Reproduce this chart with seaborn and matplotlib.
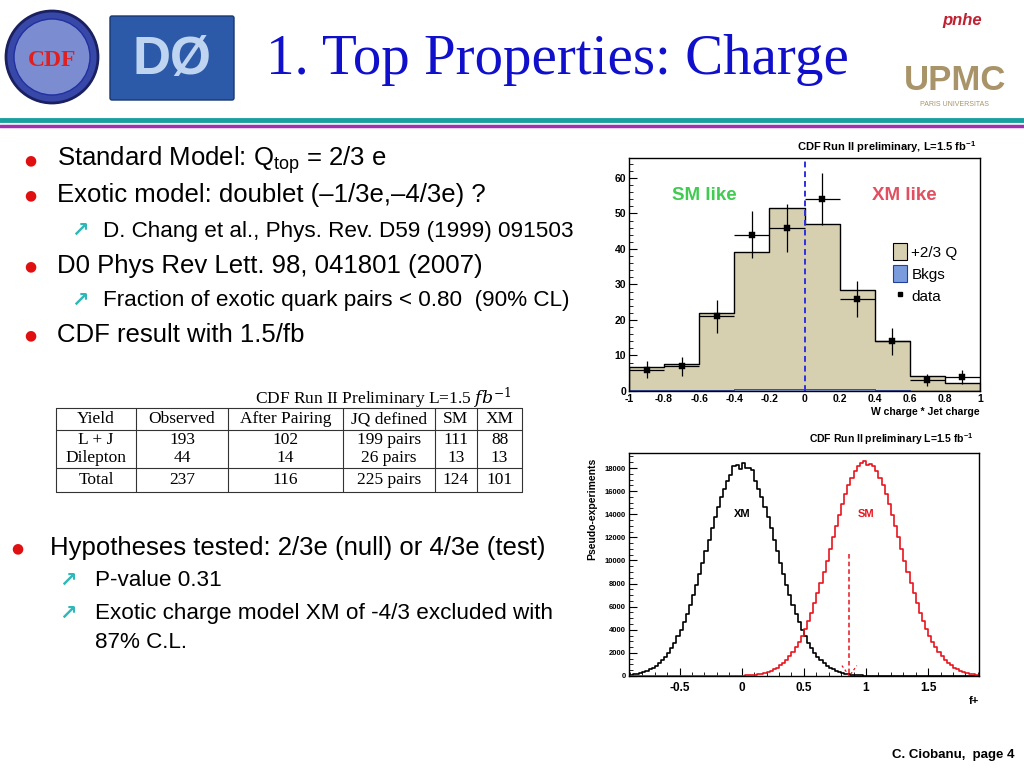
import numpy as np
import pandas as pd
import matplotlib
matplotlib.use("Agg")
import matplotlib.pyplot as plt
import seaborn as sns
from matplotlib.patches import Patch, Circle, FancyBboxPatch
from matplotlib.lines import Line2D
from matplotlib.ticker import MultipleLocator

# ---------------- data ----------------
# top histogram: W charge * Jet charge
charge_edges = [-1.0, -0.8, -0.6, -0.4, -0.2, 0.0, 0.2, 0.4, 0.6, 0.8, 1.0]
sm_total = [6.8, 7.5, 22.0, 39.0, 51.5, 47.0, 28.5, 14.0, 4.3, 2.3]
bkgs = [0.2, 0.2, 0.3, 0.6, 0.6, 0.6, 0.6, 0.3, 0.1, 0.1]
data_x = [-0.9, -0.7, -0.5, -0.3, -0.1, 0.1, 0.3, 0.5, 0.7, 0.9]
data_y = [6, 7, 21, 44, 46, 54, 26, 14, 3, 4]

# bottom histogram: f+ pseudo-experiments (bins of 0.025 from -0.9 to 1.9)
fplus_lo, fplus_hi, fplus_n = -0.9, 1.9, 112
xm_counts = [
    120, 159, 209, 272, 351, 449, 571, 719, 898, 1114, 1371, 1673, 2025, 2432, 2899, 3428,
    4020, 4677, 5399, 6181, 7024, 7915, 8850, 9818, 10802, 11793, 12772, 13721, 14624, 15464,
    16221, 16882, 17427, 18200, 18250, 17950,
    18450, 18000, 18000, 17800, 16882, 16221, 15464, 14624, 13721, 12772, 11793, 10802, 9818,
    8850, 7915, 7024, 6181, 5399, 4677, 4020, 3428, 2899, 2432, 2025, 1673, 1371, 1114, 898,
    719, 571, 449, 351, 272, 209, 159, 120,
    90, 67, 50, 36, 26, 19, 14, 10, 7, 5, 4, 3, 2, 2, 1, 1, 1, 0, 0, 0,
    0, 0, 0, 0, 0, 0, 0, 0, 0, 0, 0, 0, 0, 0, 0, 0, 0, 0, 0, 0,
]
sm_counts = [
    0, 0, 0, 0, 0, 0, 0, 0, 0, 0, 0, 0, 0, 0, 0, 0, 0, 0, 0, 0,
    0, 0, 0, 1, 1, 1, 2, 2, 3, 4, 5, 7, 10, 14, 19, 26, 36, 50, 68, 91,
    122, 162, 213, 277, 357, 457, 581, 731, 913, 1133, 1394, 1701, 2059, 2473, 2948, 3486,
    4088, 4756, 5491, 6286, 7143, 8049, 9000, 9985, 10986, 11993, 12989, 13954, 14873, 15727,
    16497, 17169, 17723, 18154, 18445, 18650,
    18300, 18380, 18154, 17723, 17169, 16497, 15727, 14873, 13954, 12989, 11993, 10986, 9985,
    9000, 8049, 7143, 6286, 5491, 4756, 4088, 3486, 2948, 2473, 2059, 1701, 1394, 1133, 913,
    731, 581, 457, 357, 277, 213, 162, 122,
]
observed_fplus = 0.866
arrow_top = 10600

# table
table_header = ["Yield", "Observed", "After Pairing", "JQ defined", "SM", "XM"]
table_rows = [
    ["L + J", "193", "102", "199 pairs", "111", "88"],
    ["Dilepton", "44", "14", "26 pairs", "13", "13"],
    ["Total", "237", "116", "225 pairs", "124", "101"],
]

# ---------------- style ----------------
sns.set_theme(style="ticks")
plt.rcParams["font.family"] = ["Liberation Sans", "DejaVu Sans"]
plt.rcParams["text.color"] = "black"
plt.rcParams["xtick.color"] = "black"
plt.rcParams["ytick.color"] = "black"
plt.rcParams["axes.labelcolor"] = "black"
plt.rcParams["mathtext.fontset"] = "custom"
plt.rcParams["mathtext.rm"] = "Liberation Sans"
plt.rcParams["mathtext.it"] = "Liberation Sans:italic"
plt.rcParams["mathtext.bf"] = "Liberation Sans:bold"

W, H = 1024, 768
fig = plt.figure(figsize=(10.24, 7.68), dpi=100)
fig.patch.set_facecolor("white")


def fx(x):
    return x / W


def fy(y):
    return 1 - y / H


def px_axes(l, t, r, b):
    return fig.add_axes([fx(l), fy(b), (r - l) / W, (b - t) / H])


# ---------------- header ----------------
fig.text(fx(557), fy(60), "1. Top Properties: Charge", family="Liberation Serif",
         fontsize=41, color="#1010CC", ha="center", va="center")

# CDF logo
lax = px_axes(0, 0, 250, 112)
lax.set_xlim(0, 250)
lax.set_ylim(112, 0)
lax.axis("off")
lax.add_patch(Circle((52, 57), 46, facecolor="#3848A8", edgecolor="#1A2060", lw=2))
lax.add_patch(Circle((52, 57), 38, facecolor="#7C8CD0", edgecolor="#2030A0", lw=1))
lax.text(52, 60, "CDF", color="#E02020", family="Liberation Serif", fontsize=17,
         ha="center", va="center", fontweight="bold")
# D0 logo
lax.add_patch(FancyBboxPatch((112, 18), 120, 80, boxstyle="round,pad=2",
                             facecolor="#2C5AA8", edgecolor="#183870"))
lax.text(172, 60, "DØ", color="#BFD4F0", fontsize=38, fontweight="bold",
         ha="center", va="center")
# UPMC / pnhe logos
fig.text(fx(955), fy(80), "UPMC", color="#A89468", fontsize=25, fontweight="bold",
         ha="center", va="center")
fig.text(fx(955), fy(104), "PARIS UNIVERSITAS", color="#A89468", fontsize=5,
         ha="center", va="center")
fig.text(fx(962), fy(20), "pnhe", color="#C02030", fontsize=12, style="italic",
         fontweight="bold", ha="center", va="center")

# header separator lines
fig.add_artist(Line2D([0, 1], [fy(120), fy(120)], color="#18A0A0", lw=3.5))
fig.add_artist(Line2D([0, 1], [fy(126), fy(126)], color="#A030B0", lw=2.5))

# ---------------- bullet text ----------------
RED = "#E01010"
ARROW = "#30B8B8"
MAIN = 18.5
SUB = 16.2


def bullet(x, y, txt, tx, size=MAIN):
    fig.text(fx(x), fy(y), "\u25CF", color=RED, fontsize=10, ha="center", va="center",
             family="DejaVu Sans")
    fig.text(fx(tx), fy(y), txt, fontsize=size, ha="left", va="center", color="black")


def sub(x, y, txt, tx, size=SUB):
    fig.text(fx(x), fy(y), "\u2197", color=ARROW, fontsize=15, ha="center", va="center",
             family="DejaVu Sans", fontweight="bold")
    fig.text(fx(tx), fy(y), txt, fontsize=size, ha="left", va="center", color="black")


bullet(30, 160, r"Standard Model: Q$_{\mathrm{top}}$ = 2/3 e", 57)
bullet(30, 195, "Exotic model: doublet (\u20131/3e,\u20134/3e) ?", 57)
sub(80, 231, "D. Chang et al., Phys. Rev. D59 (1999) 091503", 103)
bullet(30, 266, "D0 Phys Rev Lett. 98, 041801 (2007)", 57)
sub(80, 301, "Fraction of exotic quark pairs < 0.80  (90% CL)", 103)
bullet(30, 335, "CDF result with 1.5/fb", 57)

bullet(17, 548, "Hypotheses tested: 2/3e (null) or 4/3e (test)", 50)
sub(68, 581, "P-value 0.31", 95)
sub(68, 614, "Exotic charge model XM of -4/3 excluded with", 95)
fig.text(fx(95), fy(642), "87% C.L.", fontsize=SUB, ha="left", va="center", color="black")

fig.text(fx(1015), fy(755), "C. Ciobanu,  page 4", fontsize=9.5, fontweight="bold",
         ha="right", va="center")

# ---------------- table ----------------
col_lines = [56, 136, 228, 343, 435, 477, 522]
row_lines = [408, 430, 468, 492]
row_centers = [419, 440, 458, 480]
fig.text(fx(512), fy(398), r"CDF Run II Preliminary L=1.5 $fb^{-1}$", family="Liberation Serif",
         fontsize=12.5, ha="right", va="center", math_fontfamily="dejavuserif")
for xl in col_lines:
    fig.add_artist(Line2D([fx(xl), fx(xl)], [fy(row_lines[0]), fy(row_lines[-1])],
                          color="#333333", lw=0.8))
for yl in row_lines:
    fig.add_artist(Line2D([fx(col_lines[0]), fx(col_lines[-1])], [fy(yl), fy(yl)],
                          color="#333333", lw=0.8))
all_rows = [table_header] + table_rows
for ri, row in enumerate(all_rows):
    for ci, cell in enumerate(row):
        cx = (col_lines[ci] + col_lines[ci + 1]) / 2
        fig.text(fx(cx), fy(row_centers[ri]), cell, family="Liberation Serif", fontsize=12.5,
                 ha="center", va="center")

# ---------------- top chart ----------------
ax1 = px_axes(629, 158, 980, 391)
centers = [(charge_edges[i] + charge_edges[i + 1]) / 2 for i in range(len(sm_total))]
top_df = pd.DataFrame({"x": centers, "sig": sm_total, "bkg": bkgs})
sns.histplot(data=top_df, x="x", weights="sig", bins=charge_edges, element="step", fill=True,
             color="#D6D0B0", edgecolor="black", linewidth=1.0, alpha=1, ax=ax1)
sns.histplot(data=top_df, x="x", weights="bkg", bins=charge_edges, element="step", fill=True,
             color="#7A9CDC", edgecolor="#2040A0", linewidth=0.6, alpha=1, ax=ax1)
data_err = np.sqrt(np.array(data_y, dtype=float))
ax1.errorbar(data_x, data_y, yerr=data_err, xerr=0.1, fmt="none", ecolor="black",
             elinewidth=0.9, capsize=0)
sns.scatterplot(x=data_x, y=data_y, marker="s", color="black", s=14, ax=ax1, zorder=5,
                edgecolor="black")
ax1.axvline(0, color="#3030E0", ls=(0, (3, 2)), lw=1.4)
ax1.set_xlim(-1, 1)
ax1.set_ylim(0, 65.6)
ax1.set_xticks(charge_edges)
ax1.set_xticklabels(["-1", "-0.8", "-0.6", "-0.4", "-0.2", "0", "0.2", "0.4", "0.6", "0.8", "1"])
ax1.yaxis.set_major_locator(MultipleLocator(10))
ax1.yaxis.set_minor_locator(MultipleLocator(2))
ax1.xaxis.set_minor_locator(MultipleLocator(0.05))
ax1.tick_params(direction="in", length=6, width=0.8, pad=2, labelsize=7.5)
ax1.tick_params(which="minor", direction="in", length=3, width=0.6)
for lab in ax1.get_xticklabels() + ax1.get_yticklabels():
    lab.set_fontweight("bold")
ax1.set_xlabel("")
ax1.set_ylabel("")
for s in ax1.spines.values():
    s.set_visible(True)
    s.set_linewidth(1.0)
    s.set_color("black")
ax1.text(0.99, 1.015, r"CDF Run II preliminary, L=1.5 fb$^{\mathbf{-1}}$", transform=ax1.transAxes,
         ha="right", va="bottom", fontsize=8, fontweight="bold")
ax1.text(1.0, -0.07, "W charge * Jet charge", transform=ax1.transAxes, ha="right",
         va="top", fontsize=7.5, fontweight="bold")
ax1.text(-0.57, 55, "SM like", color="#40CC50", fontsize=13.5, fontweight="bold",
         ha="center", va="center")
ax1.text(0.57, 55, "XM like", color="#E05060", fontsize=13.5, fontweight="bold",
         ha="center", va="center")
handles = [Patch(facecolor="#D6D0B0", edgecolor="black", lw=0.8, label="+2/3 Q"),
           Patch(facecolor="#7A9CDC", edgecolor="#2040A0", lw=0.8, label="Bkgs"),
           Line2D([], [], marker="s", color="black", ls="none", markersize=3, label="data")]
ax1.legend(handles=handles, loc="upper left", bbox_to_anchor=(0.735, 0.66), frameon=False,
           fontsize=11, handlelength=0.9, handleheight=1.3, handletextpad=0.3,
           labelspacing=0.35, borderaxespad=0)

# ---------------- bottom chart ----------------
ax2 = px_axes(629, 453, 979, 676)
fstep = (fplus_hi - fplus_lo) / fplus_n
fedges = [fplus_lo + i * fstep for i in range(fplus_n + 1)]
fcent = [fplus_lo + (i + 0.5) * fstep for i in range(fplus_n)]
bot_df = pd.DataFrame({"f": fcent, "xm": xm_counts, "sm": sm_counts})
sns.histplot(data=bot_df, x="f", weights="xm", bins=fedges, element="step", fill=False,
             color="black", linewidth=1.2, ax=ax2)
sns.histplot(data=bot_df, x="f", weights="sm", bins=fedges, element="step", fill=False,
             color="#E8141E", linewidth=1.2, ax=ax2)
ax2.plot([observed_fplus, observed_fplus], [arrow_top, 0], color="#E8141E",
         ls=(0, (3, 2)), lw=1.1)
ax2.plot([observed_fplus - 0.06, observed_fplus, observed_fplus + 0.06], [900, 0, 900],
         color="#E8141E", ls=(0, (2, 2)), lw=0.9)
ax2.set_xlim(-0.907, 1.909)
ax2.set_ylim(0, 19300)
ax2.set_xticks([-0.5, 0, 0.5, 1, 1.5])
ax2.set_xticklabels(["-0.5", "0", "0.5", "1", "1.5"])
ax2.xaxis.set_minor_locator(MultipleLocator(0.1))
ax2.yaxis.set_major_locator(MultipleLocator(2000))
ax2.yaxis.set_minor_locator(MultipleLocator(500))
ax2.tick_params(axis="x", direction="in", length=6, width=0.8, pad=4, labelsize=8.5)
ax2.tick_params(axis="y", direction="in", length=6, width=0.8, pad=2, labelsize=5.5)
ax2.tick_params(which="minor", direction="in", length=3, width=0.6)
for lab in ax2.get_xticklabels() + ax2.get_yticklabels():
    lab.set_fontweight("bold")
ax2.set_xlabel("")
ax2.set_ylabel("Pseudo-experiments", fontsize=7.5, fontweight="bold")
ax2.yaxis.set_label_coords(-0.09, 0.75)
for s in ax2.spines.values():
    s.set_visible(True)
    s.set_linewidth(1.0)
    s.set_color("black")
ax2.text(0.985, 1.025, r"CDF Run II preliminary L=1.5 fb$^{\mathbf{-1}}$", transform=ax2.transAxes,
         ha="right", va="bottom", fontsize=7.5, fontweight="bold")
ax2.text(1.0, -0.09, "f+", transform=ax2.transAxes, ha="right", va="top", fontsize=8,
         fontweight="bold")
ax2.text(0.0, 14000, "XM", color="black", fontsize=8, fontweight="bold", ha="center",
         va="center")
ax2.text(1.0, 14000, "SM", color="#E8141E", fontsize=8, fontweight="bold", ha="center",
         va="center")

fig.savefig("out.png", dpi=100, facecolor="white")
